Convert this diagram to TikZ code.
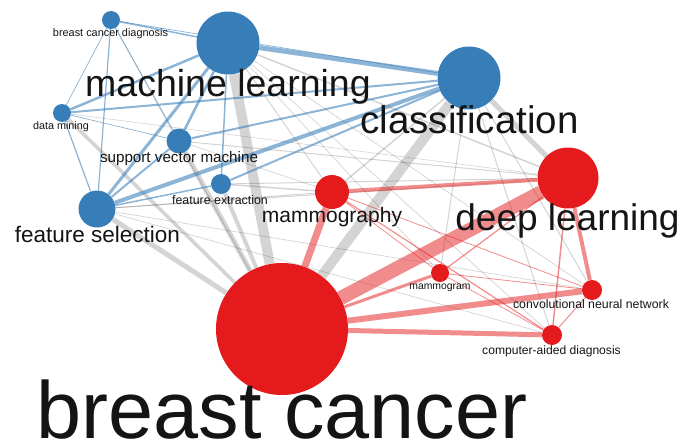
\documentclass[tikz,border=0pt]{standalone}
\usepackage{fontspec}
\setmainfont{Liberation Sans}
\usepackage{xcolor}
\usepackage{tikz}
\usetikzlibrary{positioning, backgrounds}
\definecolor{vosblue}{RGB}{55,126,184}
\definecolor{vosred}{RGB}{228,26,28}

\begin{document}
\begin{tikzpicture}[
    x=1pt, y=-1pt,
    blueterm/.style={circle, fill=vosblue, inner sep=0pt, minimum size=#1},
    redterm/.style={circle, fill=vosred, inner sep=0pt, minimum size=#1},
    word/.style={inner sep=0pt, anchor=base, text=black!92, font=\fontsize{#1}{#1}\selectfont},
    bluelink/.style={draw=vosblue, draw opacity=0.58, line width=#1},
    redlink/.style={draw=vosred, draw opacity=0.5, line width=#1},
    greylink/.style={draw=black, draw opacity=0.17, line width=#1}
]
    \useasboundingbox (0,0) rectangle (696,447);

    \node [blueterm=18] (bcd) at (111,20) {};
    \node [blueterm=63] (ml) at (228,43) {};
    \node [blueterm=63] (cls) at (469,78) {};
    \node [blueterm=18] (dm) at (62,113) {};
    \node [blueterm=25] (svm) at (179,141) {};
    \node [blueterm=20] (fe) at (221,184) {};
    \node [blueterm=37] (fs) at (97,209) {};
    \node [redterm=34] (mgy) at (332,192) {};
    \node [redterm=61] (dl) at (568,178) {};
    \node [redterm=18] (mam) at (440,273) {};
    \node [redterm=20] (cnn) at (592,290) {};
    \node [redterm=20] (cad) at (552,335) {};
    \node [redterm=132] (bc) at (282,329) {};

    \begin{scope}[on background layer]
    \draw [greylink=10] (ml) -- (bc);
    \draw [greylink=10] (cls) -- (bc);
    \draw [greylink=5] (cls) -- (dl);
    \draw [greylink=5] (fs) -- (bc);
    \draw [greylink=5] (svm) -- (bc);
    \draw [greylink=3.5] (dm) -- (bc);
    \draw [greylink=4] (fe) -- (bc);
    \draw [greylink=1] (bcd) -- (bc);
    \draw [greylink=1.5] (ml) -- (dl);
    \draw [greylink=1] (ml) -- (mgy);
    \draw [greylink=1.5] (cls) -- (mgy);
    \draw [greylink=1] (cls) -- (mam);
    \draw [greylink=1] (cls) -- (cad);
    \draw [greylink=1] (cls) -- (cnn);
    \draw [greylink=0.7] (ml) -- (cnn);
    \draw [greylink=0.7] (ml) -- (cad);
    \draw [greylink=0.7] (ml) -- (mam);
    \draw [greylink=1] (fs) -- (dl);
    \draw [greylink=1] (fs) -- (mgy);
    \draw [greylink=0.7] (fs) -- (cnn);
    \draw [greylink=0.7] (fs) -- (cad);
    \draw [greylink=1] (svm) -- (dl);
    \draw [greylink=0.7] (svm) -- (mgy);
    \draw [greylink=1] (fe) -- (dl);
    \draw [greylink=1.5] (fe) -- (mgy);
    \draw [greylink=0.6] (dm) -- (dl);

    \draw [bluelink=5] (ml) -- (cls);
    \draw [bluelink=3] (ml) -- (fs);
    \draw [bluelink=2.5] (ml) -- (svm);
    \draw [bluelink=2.5] (ml) -- (dm);
    \draw [bluelink=1.5] (ml) -- (bcd);
    \draw [bluelink=1.5] (ml) -- (fe);
    \draw [bluelink=4] (fs) -- (cls);
    \draw [bluelink=2] (svm) -- (cls);
    \draw [bluelink=2] (dm) -- (cls);
    \draw [bluelink=2] (fe) -- (cls);
    \draw [bluelink=2] (fs) -- (svm);
    \draw [bluelink=1.5] (fs) -- (fe);
    \draw [bluelink=1.2] (fs) -- (dm);
    \draw [bluelink=1.2] (fs) -- (bcd);
    \draw [bluelink=0.7] (bcd) -- (dm);
    \draw [bluelink=0.7] (svm) -- (dm);
    \draw [bluelink=0.7] (bcd) -- (svm);
    \draw [bluelink=0.7] (bcd) -- (cls);

    \draw [redlink=14] (bc) -- (dl);
    \draw [redlink=7] (bc) -- (mgy);
    \draw [redlink=6] (bc) -- (cnn);
    \draw [redlink=5] (bc) -- (cad);
    \draw [redlink=3] (bc) -- (mam);
    \draw [redlink=4] (mgy) -- (dl);
    \draw [redlink=4] (dl) -- (cnn);
    \draw [redlink=1.5] (dl) -- (cad);
    \draw [redlink=1.2] (dl) -- (mam);
    \draw [redlink=1.2] (mgy) -- (cad);
    \draw [redlink=0.8] (mgy) -- (mam);
    \draw [redlink=1] (cnn) -- (cad);
    \draw [redlink=0.8] (mam) -- (cad);
    \draw [redlink=0.8] (mam) -- (cnn);
    \draw [redlink=0.8] (mgy) -- (cnn);
    \end{scope}

    \node [word=10.9] (bcd-t) at (110.5,36) {breast cancer diagnosis};
    \node [word=37.5] (ml-t) at (228,96) {machine learning};
    \node [word=38.5] (cls-t) at (469.5,133) {classification};
    \node [word=10.8] (dm-t) at (61,129) {data mining};
    \node [word=15.2] (svm-t) at (179,162) {support vector machine};
    \node [word=12.4] (fe-t) at (220,204) {feature extraction};
    \node [word=22.5] (fs-t) at (97.5,242) {feature selection};
    \node [word=21] (mgy-t) at (332,222) {mammography};
    \node [word=37] (dl-t) at (567.5,230) {deep learning};
    \node [word=10.4] (mam-t) at (440,289) {mammogram};
    \node [word=12.3] (cnn-t) at (591,308) {convolutional neural network};
    \node [word=12.1] (cad-t) at (551.5,354) {computer-aided diagnosis};
    \node [word=81] (bc-t) at (282,438.5) {breast cancer};
\end{tikzpicture}
\end{document}
